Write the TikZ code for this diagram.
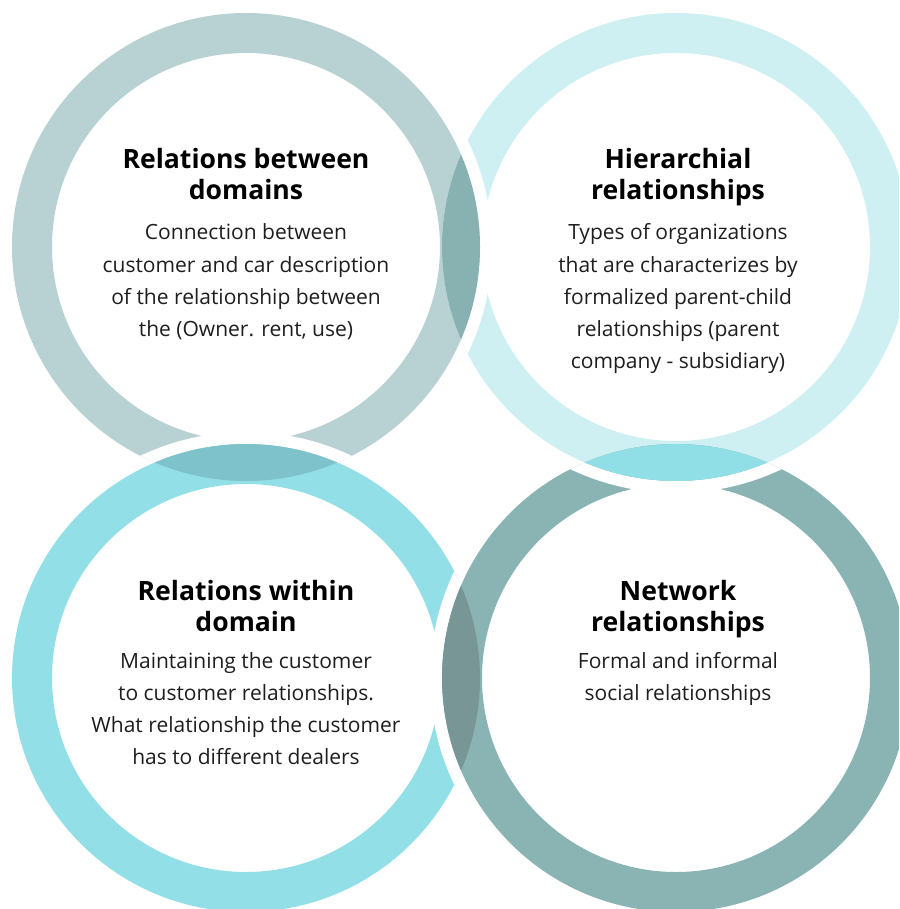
\documentclass[tikz,border=0pt]{standalone}
\usepackage{fontspec}
\setmainfont{Open Sans}
\definecolor{ringA}{RGB}{184,209,210}
\definecolor{ringB}{RGB}{207,240,242}
\definecolor{ringC}{RGB}{146,223,231}
\definecolor{ringD}{RGB}{138,180,180}
\definecolor{lensAB}{RGB}{136,178,178}
\definecolor{lensCA}{RGB}{126,195,203}
\definecolor{lensBD}{RGB}{145,223,230}
\definecolor{lensDC}{RGB}{120,150,150}
\definecolor{bodytext}{RGB}{30,30,30}
\begin{document}
\begin{tikzpicture}[x=1pt,y=-1pt,
  headline/.style={font=\fontsize{26.6}{31}\selectfont\bfseries, text=black, anchor=base, inner sep=0pt},
  bodyline/.style={font=\fontsize{21}{32}\selectfont, text=bodytext, anchor=base, inner sep=0pt},
  band/.style={even odd rule}]
\useasboundingbox (0,0) rectangle (899,909);
\clip (0,0) rectangle (899,909);
% ring centres
\coordinate (c1) at (246,247);
\coordinate (c2) at (676,247);
\coordinate (c3) at (246,678);
\coordinate (c4) at (676,678);
% the four bands
\fill[band, ringA] (c1) circle[radius=234pt] circle[radius=194pt];
\fill[band, ringB] (c2) circle[radius=234pt] circle[radius=194pt];
\fill[band, ringC] (c3) circle[radius=234pt] circle[radius=194pt];
\fill[band, ringD] (c4) circle[radius=234pt] circle[radius=194pt];
% crossings: white gap in the lower band, darker lens where they overlap
\begin{scope}
  \clip (c2) circle[radius=234pt];
  \draw[white, line width=12pt] (c1) circle[radius=240pt];
  \fill[lensAB] (c1) circle[radius=234pt];
\end{scope}
\begin{scope}
  \clip (c1) circle[radius=234pt];
  \draw[white, line width=12pt] (c3) circle[radius=240pt];
  \fill[lensCA] (c3) circle[radius=234pt];
\end{scope}
\begin{scope}
  \clip (c4) circle[radius=234pt];
  \draw[white, line width=12pt] (c2) circle[radius=240pt];
  \fill[lensBD] (c2) circle[radius=234pt];
\end{scope}
\begin{scope}
  \clip (c3) circle[radius=234pt];
  \draw[white, line width=12pt] (c4) circle[radius=240pt];
  \fill[lensDC] (c4) circle[radius=234pt];
\end{scope}
% texts
\foreach \t [count=\k] in {Relations between, domains}
  \node[headline, name=ha\k] at (246,{169+31*(\k-1)}) {\t};
\foreach \t [count=\k] in {Connection between, customer and car description, of the relationship between, {the (Owner. rent, use)}}
  \node[bodyline, name=ba\k] at (246,{240+32*(\k-1)}) {\t};
\foreach \t [count=\k] in {Hierarchial, relationships}
  \node[headline, name=hb\k] at (678,{169+31*(\k-1)}) {\t};
\foreach \t [count=\k] in {Types of organizations, that are characterizes by, formalized parent-child, relationships (parent, company - subsidiary)}
  \node[bodyline, name=bb\k] at (678,{240+32*(\k-1)}) {\t};
\foreach \t [count=\k] in {Relations within, domain}
  \node[headline, name=hc\k] at (246,{600+31*(\k-1)}) {\t};
\foreach \t [count=\k] in {Maintaining the customer, to customer relationships., What relationship the customer, has to different dealers}
  \node[bodyline, name=bc\k] at (246,{668+32*(\k-1)}) {\t};
\foreach \t [count=\k] in {Network, relationships}
  \node[headline, name=hd\k] at (678,{600+31*(\k-1)}) {\t};
\foreach \t [count=\k] in {Formal and informal, social relationships}
  \node[bodyline, name=bd\k] at (678,{668+32*(\k-1)}) {\t};
\end{tikzpicture}
\end{document}
